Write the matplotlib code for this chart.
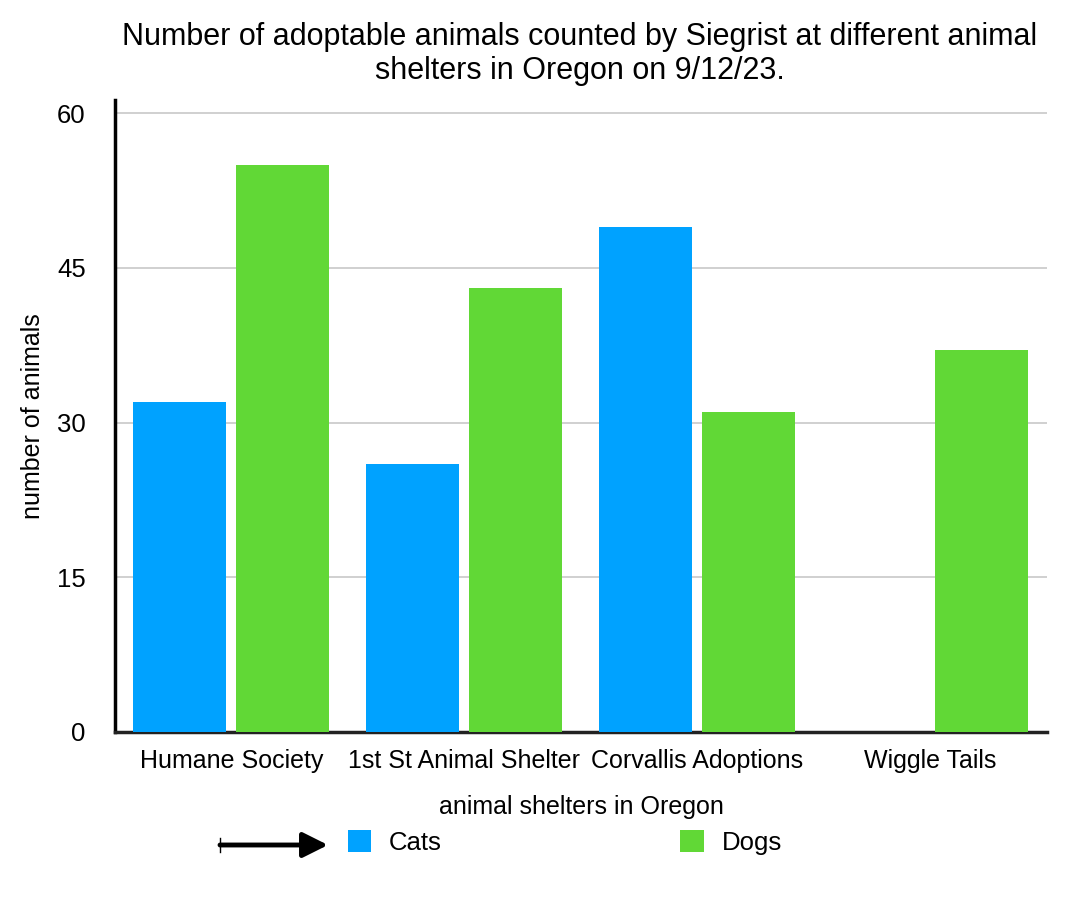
import matplotlib.pyplot as plt
import numpy as np

plt.rcParams['font.family'] = ['Liberation Sans', 'DejaVu Sans']

shelters = ["Humane Society", "1st St Animal Shelter", "Corvallis Adoptions", "Wiggle Tails"]
cats = [32, 26, 49, 0]
dogs = [55, 43, 31, 37]
yticks = [0, 15, 30, 45, 60]

fig = plt.figure(figsize=(10.88, 9.02), dpi=100)
ax = fig.add_axes([0.1057, 0.1885, 0.8566, 0.7006])

x = np.arange(len(shelters))
w = 0.4
b1 = ax.bar(x - 0.222, cats, w, color='#00A2FF', label='Cats', zorder=3)
b2 = ax.bar(x + 0.218, dogs, w, color='#61D836', label='Dogs', zorder=3)

ax.set_xlim(-0.5, len(shelters) - 0.5)
ax.set_ylim(0, 61.26)
ax.set_yticks(yticks)
ax.set_xticks(x)
ax.set_xticklabels(shelters, fontsize=18)
ax.tick_params(axis='y', length=0, pad=21, labelsize=18.5)
ax.tick_params(axis='x', length=0, pad=12)
ax.yaxis.grid(True, color='#c8c8c8', linewidth=1.2, zorder=0)

for s in ['top', 'right']:
    ax.spines[s].set_visible(False)
ax.spines['left'].set_linewidth(2.5)
ax.spines['left'].set_color('black')
ax.spines['bottom'].set_linewidth(2.5)
ax.spines['bottom'].set_color('#222222')

ax.set_ylabel('number of animals', fontsize=18, labelpad=9)
ax.set_xlabel('animal shelters in Oregon', fontsize=18, labelpad=16)

fig.suptitle('Number of adoptable animals counted by Siegrist at different animal\nshelters in Oregon on 9/12/23.',
             fontsize=22, x=0.533, y=0.976, linespacing=1.2)

fig.legend(handles=[b1, b2], loc='center', bbox_to_anchor=(0.519, 0.066), ncol=2,
           frameon=False, fontsize=18.5, handlelength=0.9, handleheight=0.9,
           handletextpad=0.7, columnspacing=9.3)

# arrow pointing at the legend
fig.patches.append(plt.matplotlib.patches.FancyArrowPatch(
    (220 / 1088, 1 - 845 / 902), (328 / 1088, 1 - 845 / 902),
    transform=fig.transFigure, arrowstyle='-|>', mutation_scale=38,
    shrinkA=0, shrinkB=0, color='black', linewidth=3.5))
fig.add_artist(plt.Line2D([220 / 1088, 220 / 1088], [1 - 838 / 902, 1 - 852 / 902],
                          color='black', linewidth=1))

fig.savefig('out.png', dpi=100)
